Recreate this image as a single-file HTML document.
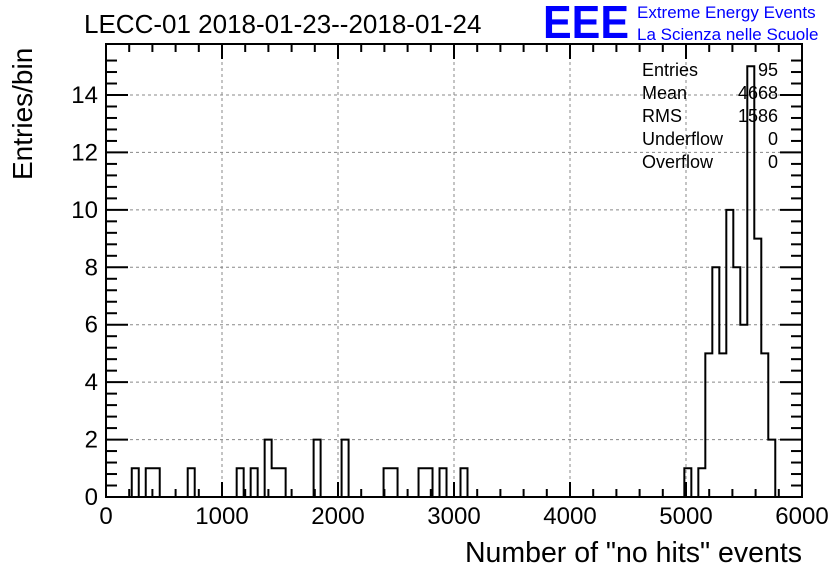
<!DOCTYPE html>
<html><head><meta charset="utf-8"><style>
body{margin:0;background:#fff;}
svg{display:block;font-family:"Liberation Sans",sans-serif;}
</style></head><body>
<svg id="c" width="836" height="572" viewBox="0 0 836 572">
<rect width="836" height="572" fill="#fff"/>
<text x="84" y="33" font-size="26">LECC-01 2018-01-23--2018-01-24</text>
<text x="543" y="38" font-size="46" fill="#0000ff" font-weight="bold" textLength="86" lengthAdjust="spacingAndGlyphs">EEE</text>
<text x="637" y="18" font-size="17" fill="#0000ff">Extreme Energy Events</text>
<text x="637" y="40" font-size="17" fill="#0000ff">La Scienza nelle Scuole</text>
<g id="grid"></g>
<g id="marks"></g>
<g id="axes"></g>
<g font-size="18">
<text x="642" y="76">Entries</text><text x="778" y="76" text-anchor="end">95</text>
<text x="642" y="99">Mean</text><text x="778" y="99" text-anchor="end">4668</text>
<text x="642" y="122">RMS</text><text x="778" y="122" text-anchor="end">1586</text>
<text x="642" y="145">Underflow</text><text x="778" y="145" text-anchor="end">0</text>
<text x="642" y="168">Overflow</text><text x="778" y="168" text-anchor="end">0</text>
</g>
<text x="802" y="562" font-size="28.5" text-anchor="end">Number of "no hits" events</text>
<text transform="translate(32,180) rotate(-90)" font-size="28">Entries/bin</text>
</svg>
<script>
const binStart = 222;
const binWidth = 60.3;
const counts = [1,0,1,1,0,0,0,0,1,0, 0,0,0,0,0,1,0,1,0,2, 1,1,0,0,0,0,2,0,0,0, 2,0,0,0,0,0,1,1,0,0, 0,1,1,0,1,0,0,1,0,0,
 0,0,0,0,0,0,0,0,0,0, 0,0,0,0,0,0,0,0,0,0, 0,0,0,0,0,0,0,0,0,1, 0,1,5,8,5,10,8,6,15,9, 5,2];
const xTicks = [0,1000,2000,3000,4000,5000,6000];
const yTicks = [0,2,4,6,8,10,12,14];
const L=106,R=802,T=44,B=497;
const X=v=>L+(v/6000)*(R-L);
const Y=v=>B-v*(B-95)/14;
const NS="http://www.w3.org/2000/svg";
function mk(tag,attrs,parent){const e=document.createElementNS(NS,tag);for(const k in attrs)e.setAttribute(k,attrs[k]);parent.appendChild(e);return e;}
const grid=document.getElementById('grid'),marks=document.getElementById('marks'),axes=document.getElementById('axes');
xTicks.forEach(t=>{if(t>0&&t<6000){const g=mk('line',{x1:X(t),x2:X(t),y1:T,y2:B,stroke:'#888','stroke-dasharray':'3,3'},grid);

}});
yTicks.forEach(t=>{if(t>0){const g=mk('line',{x1:L,x2:R,y1:Y(t),y2:Y(t),stroke:'#888','stroke-dasharray':'3,3'},grid);

}});
let d='M'+X(binStart)+','+Y(0);
counts.forEach((c,i)=>{const x0=X(binStart+i*binWidth);d+=' L'+x0+','+Y(c);d+=' L'+X(binStart+(i+1)*binWidth)+','+Y(c);});
d+=' L'+X(binStart+counts.length*binWidth)+','+Y(0);
const p=mk('path',{d:d,fill:'none',stroke:'#000','stroke-width':2},marks);


const f=mk('rect',{x:L,y:T,width:R-L,height:B-T,fill:'none',stroke:'#000','stroke-width':2},axes);


for(let v=0;v<=6000;v+=200){const maj=v%1000===0,len=maj?15:8;
mk('line',{x1:X(v),x2:X(v),y1:B,y2:B-len,stroke:'#000','stroke-width':2},axes);
mk('line',{x1:X(v),x2:X(v),y1:T,y2:T+len,stroke:'#000','stroke-width':2},axes);}
for(let v=0;v<=15.6;v+=0.4){const maj=Math.abs(v/2-Math.round(v/2))<1e-6,len=maj?22:11;
mk('line',{x1:L,x2:L+len,y1:Y(v),y2:Y(v),stroke:'#000','stroke-width':2},axes);
mk('line',{x1:R,x2:R-len,y1:Y(v),y2:Y(v),stroke:'#000','stroke-width':2},axes);}
xTicks.forEach(t=>{const e=mk('text',{x:X(t),y:524,'font-size':24,'text-anchor':'middle'},axes);e.textContent=t;

});
yTicks.forEach(t=>{const e=mk('text',{x:98,y:Y(t)+8,'font-size':24,'text-anchor':'end'},axes);e.textContent=t;

});
</script>
</body></html>
